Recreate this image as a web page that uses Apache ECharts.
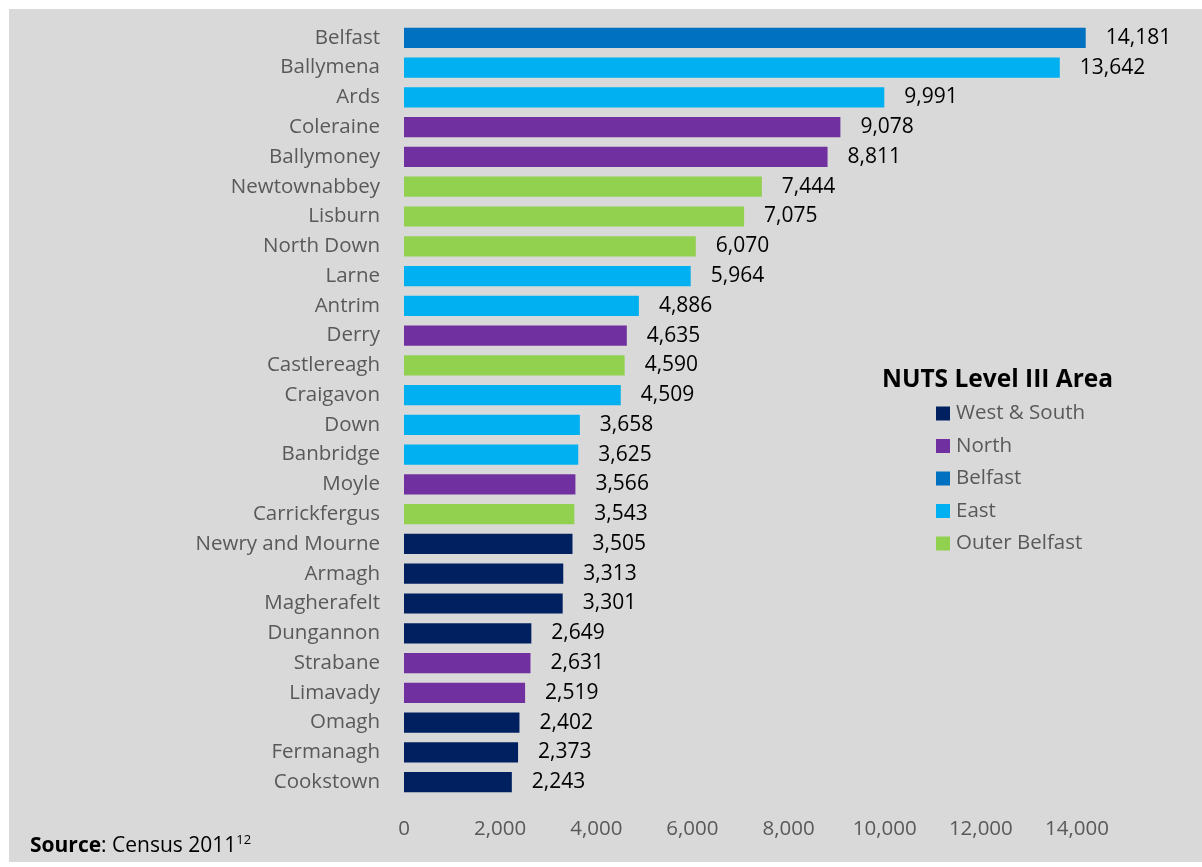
<!DOCTYPE html>
<html>
<head>
<meta charset="utf-8">
<script src="https://cdn.jsdelivr.net/npm/echarts@6/dist/echarts.min.js"></script>
<style>
  html, body { margin: 0; padding: 0; background: #ffffff; }
  #bg { position: absolute; left: 9px; top: 9px; width: 1193px; height: 853px; background: #d9d9d9; }
  #chart { position: absolute; left: 0; top: 0; width: 1202px; height: 867px; }
</style>
</head>
<body>
<div id="bg"></div>
<div id="chart"></div>
<script>
const categories = ["Belfast","Ballymena","Ards","Coleraine","Ballymoney","Newtownabbey","Lisburn","North Down","Larne","Antrim","Derry","Castlereagh","Craigavon","Down","Banbridge","Moyle","Carrickfergus","Newry and Mourne","Armagh","Magherafelt","Dungannon","Strabane","Limavady","Omagh","Fermanagh","Cookstown"];
const values = [14181,13642,9991,9078,8811,7444,7075,6070,5964,4886,4635,4590,4509,3658,3625,3566,3543,3505,3313,3301,2649,2631,2519,2402,2373,2243];
const areas = ["Belfast","East","East","North","North","Outer Belfast","Outer Belfast","Outer Belfast","East","East","North","Outer Belfast","East","East","East","North","Outer Belfast","West & South","West & South","West & South","West & South","North","North","West & South","West & South","West & South"];
const areaNames = ["West & South","North","Belfast","East","Outer Belfast"];
const areaColors = ["#002060","#7030A0","#0070C0","#00B0F0","#92D050"];
const xTicks = [0,2000,4000,6000,8000,10000,12000,14000];

const FONT = "Open Sans";
const series = areaNames.map((name, i) => ({
  name: name,
  type: "bar",
  stack: "all",
  clip: false,
  barCategoryGap: "32%",
  itemStyle: { color: areaColors[i] },
  label: {
    show: true, position: "right", distance: 20,
    color: "#000000", fontSize: 21, fontFamily: FONT,
    formatter: p => p.value.toLocaleString("en-US")
  },
  data: values.map((v, k) => areas[k] === name ? v : "-")
}));

const chart = echarts.init(document.getElementById("chart"), null, { renderer: "canvas" });
chart.setOption({
  backgroundColor: "transparent",
  animation: false,
  grid: { left: 404, right: 125, top: 23, bottom: 70, containLabel: false },
  xAxis: {
    type: "value", min: xTicks[0], max: xTicks[xTicks.length - 1], interval: 2000,
    splitLine: { show: false }, axisLine: { show: false }, axisTick: { show: false },
    axisLabel: { color: "#595959", fontSize: 20.5, fontFamily: FONT, margin: 22,
      formatter: v => v.toLocaleString("en-US") }
  },
  yAxis: {
    type: "category", data: categories, inverse: true,
    axisLine: { show: false }, axisTick: { show: false },
    axisLabel: { color: "#595959", fontSize: 20.5, fontFamily: FONT, margin: 24 }
  },
  legend: {
    orient: "vertical", left: 936, top: 403, padding: 0,
    itemWidth: 14, itemHeight: 14, itemGap: 11.5, icon: "rect",
    data: areaNames,
    textStyle: { color: "#595959", fontSize: 20.5, fontFamily: FONT, padding: [0, 0, 0, 1] }
  },
  graphic: [
    { type: "text", left: 882, top: 368,
      style: { text: "NUTS Level III Area", fill: "#000000", font: "bold 24.5px " + FONT } },
    { type: "text", left: 30, top: 834,
      style: {
        text: "{b|Source}{n|: Census 2011}{s|12}",
        rich: {
          b: { fontWeight: "bold", fontSize: 21, fontFamily: FONT, color: "#000000" },
          n: { fontSize: 21, fontFamily: FONT, color: "#000000" },
          s: { fontSize: 13, fontFamily: FONT, color: "#000000", verticalAlign: "top", padding: [0, 0, 11, 0] }
        }
      } }
  ],
  series: series
});
</script>
</body>
</html>
